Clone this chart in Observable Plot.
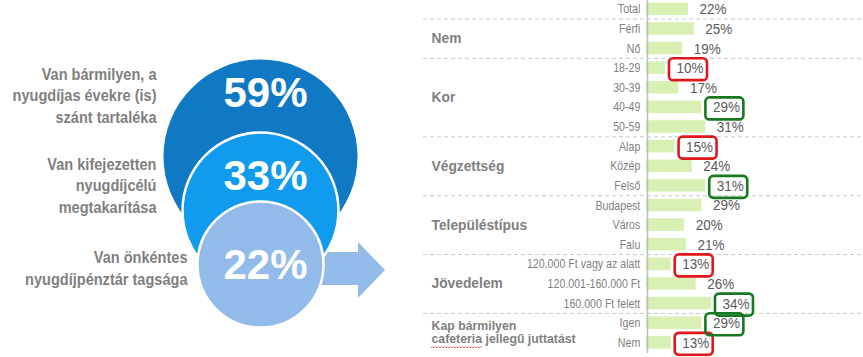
<!DOCTYPE html>
<html>
<head>
<meta charset="utf-8">
<script src="https://cdn.jsdelivr.net/npm/d3@7"></script>
<script src="https://cdn.jsdelivr.net/npm/@observablehq/plot@0.6"></script>
<style>
  html, body { margin: 0; padding: 0; background: #ffffff; }
  #chart { display: flex; width: 863px; height: 357px; overflow: hidden; }
  #chart svg { display: block; flex: none; }
</style>
</head>
<body>
<div id="chart"></div>
<script>
// ---------- DATA ----------
const circleLabels = [
  "Van bármilyen, a\nnyugdíjas évekre (is)\nszánt tartaléka",
  "Van kifejezetten\nnyugdíjcélú\nmegtakarítása",
  "Van önkéntes\nnyugdíjpénztár tagsága"
];
const circleValues = [59, 33, 22];

const categories = ["Total", "Férfi", "Nő", "18-29", "30-39", "40-49", "50-59",
  "Alap", "Közép", "Felső", "Budapest", "Város", "Falu",
  "120.000 Ft vagy az alatt", "120.001-160.000 Ft", "160.000 Ft felett", "Igen", "Nem"];
const values = [22, 25, 19, 10, 17, 29, 31, 15, 24, 31, 29, 20, 21, 13, 26, 34, 29, 13];
const groupNames = ["", "Nem", "Kor", "Végzettség", "Településtípus", "Jövedelem",
  "Kap bármilyen\ncafeteria jellegű juttatást"];
const groupSizes = [1, 2, 4, 3, 3, 3, 2];
const lowCategories = ["18-29", "Alap", "120.000 Ft vagy az alatt", "Nem"];
const highCategories = ["40-49", "Felső", "160.000 Ft felett", "Igen"];

// ---------- LAYOUT / STYLE ----------
const font = "'Liberation Sans', Arial, Helvetica, sans-serif";
const circleR = [97, 78, 63];
const circleColors = ["#0f79c3", "#109bee", "#93bbea"];
const valueDy = [-63, -34, 1.5];
const labelDx = [-104, -104, -73];
const labelDy = [-62, -26, 2.5];
const greyText = "#7f7f7f";
const LABEL_SIZE = 16, CAT_SIZE = 12.5, VAL_SIZE = 15.5;

const rows = categories.map((c, i) => ({cat: c, value: values[i]}));
const lows = rows.filter(d => lowCategories.includes(d.cat));
const highs = rows.filter(d => highCategories.includes(d.cat));

// narrow-looking text: squeeze glyphs horizontally around their anchor
function condense(svg, sizes) {
  svg.querySelectorAll('g[aria-label="text"]').forEach(g => {
    const k = sizes[parseFloat(g.getAttribute("font-size"))];
    if (!k) return;
    g.querySelectorAll("text").forEach(t => {
      const tr = t.getAttribute("transform") || "";
      t.setAttribute("transform", tr + ` scale(${k},1)`);
    });
  });
}

// ---------- LEFT PANEL ----------
const leftMarks = [];
// arrow
leftMarks.push((index, scales, vals, dims) => {
  const cy = scales && scales.y ? scales.y(circleLabels[2]) : 264;
  const cx = (dims.marginLeft + dims.width - dims.marginRight) / 2;
  const pts = [
    [cx + 60, cy - 12], [cx + 98, cy - 12], [cx + 98, cy - 22], [cx + 125, cy + 6],
    [cx + 98, cy + 34], [cx + 98, cy + 21], [cx + 60, cy + 21]
  ];
  const g = d3.create("svg:g");
  g.append("path").attr("d", "M" + pts.map(p => p.join(",")).join("L") + "Z").attr("fill", "#93bbea");
  return g.node();
});
circleLabels.forEach((lab, i) => {
  leftMarks.push(Plot.dot([lab], {
    y: d => d, r: circleR[i], fill: circleColors[i],
    stroke: "white", strokeWidth: i === 0 ? 0 : 2.5
  }));
});
circleLabels.forEach((lab, i) => {
  leftMarks.push(Plot.text([lab], {
    y: d => d, text: () => circleValues[i] + "%", dx: 5, dy: valueDy[i],
    fill: "white", fontSize: 42, fontWeight: "bold", fontFamily: font
  }));
  leftMarks.push(Plot.text([lab], {
    y: d => d, text: d => d, textAnchor: "end", dx: labelDx[i], dy: labelDy[i],
    lineHeight: 1.36, fontSize: LABEL_SIZE, fontWeight: "bold", fill: greyText, fontFamily: font
  }));
});

const left = Plot.plot({
  width: 410, height: 357,
  marginLeft: 110, marginRight: 0, marginTop: 0, marginBottom: 0,
  y: {type: "point", domain: circleLabels, range: [156, 264], padding: 0, round: false, axis: null},
  style: {background: "transparent", overflow: "visible"},
  marks: leftMarks
});
condense(left, {[LABEL_SIZE]: 0.91});

// ---------- RIGHT PANEL ----------
const yRange = [-1.01, 352.15];
const rowStep = (yRange[1] - yRange[0]) / categories.length;

const groupStarts = [];
const rightMarks = [];
{
  let start = 0;
  groupNames.forEach((g, i) => {
    if (i > 0) groupStarts.push(categories[start]);
    if (g) {
      const first = categories[start];
      const isTwoLine = g.includes("\n");
      rightMarks.push(Plot.text([g], {
        y: () => first, text: d => d, frameAnchor: "left", textAnchor: "start",
        dx: 8, dy: (groupSizes[i] - 1) / 2 * rowStep + (isTwoLine ? -1 : 0),
        fontSize: isTwoLine ? 12.3 : 13.8, lineHeight: isTwoLine ? 1.05 : 1,
        fontWeight: "bold", fill: greyText, fontFamily: font
      }));
    }
    start += groupSizes[i];
  });
}

const right = Plot.plot({
  width: 453, height: 357,
  marginLeft: 13, marginRight: 0, marginTop: 0, marginBottom: 4,
  x: {domain: [0, 100], range: [235.8, 235.8 + 191.7], axis: null},
  y: {domain: categories, range: yRange, paddingInner: 0.36, paddingOuter: 0.18, round: false, axis: null},
  style: {background: "transparent", overflow: "visible"},
  marks: [
    Plot.ruleY(groupStarts, {dy: -rowStep / 2, stroke: "#c9c9c9", strokeWidth: 1, strokeDasharray: "4,3"}),
    Plot.barX(rows, {x: "value", y: "cat", fill: "#d9f0b4"}),
    Plot.ruleX([0], {dx: 1.2, stroke: "#bdbdbd", strokeWidth: 1.5}),
    Plot.text(rows, {
      x: 0, y: "cat", text: "cat", textAnchor: "end", dx: -6,
      fontSize: CAT_SIZE, fill: greyText, fontFamily: font
    }),
    Plot.text(rows, {
      x: "value", y: "cat", text: d => d.value + "%", textAnchor: "start", dx: 11,
      fontSize: VAL_SIZE, fill: "#5a5a5a", fontFamily: font
    }),
    Plot.barX(lows, {
      x1: "value", x2: "value", y: "cat",
      insetLeft: 4, insetRight: -42, insetTop: -3.2, insetBottom: -6.2,
      fill: "none", stroke: "#e0161b", strokeWidth: 2.6, rx: 4
    }),
    Plot.barX(highs, {
      x1: "value", x2: "value", y: "cat",
      insetLeft: 4, insetRight: -42, insetTop: -3.2, insetBottom: -6.2,
      fill: "none", stroke: "#17791f", strokeWidth: 2.6, rx: 4
    }),
    ...rightMarks,
    // spell-check style wavy underline under "cafeteria"
    (index, scales, vals, dims) => {
      const yBase = yRange[0] + (categories.length - 0.5) * rowStep + 5.5;
      const x0 = dims.marginLeft + 8, x1 = x0 + 52;
      let d = `M${x0},${yBase}`;
      let up = true;
      for (let x = x0 + 1.5; x <= x1; x += 1.5) { d += `L${x},${yBase + (up ? -1.2 : 0)}`; up = !up; }
      const g = d3.create("svg:g");
      g.append("path").attr("d", d).attr("fill", "none").attr("stroke", "#e06060").attr("stroke-width", 0.9);
      return g.node();
    }
  ]
});
condense(right, {[CAT_SIZE]: 0.85, [VAL_SIZE]: 0.87});

document.getElementById("chart").append(left, right);
</script>
</body>
</html>
